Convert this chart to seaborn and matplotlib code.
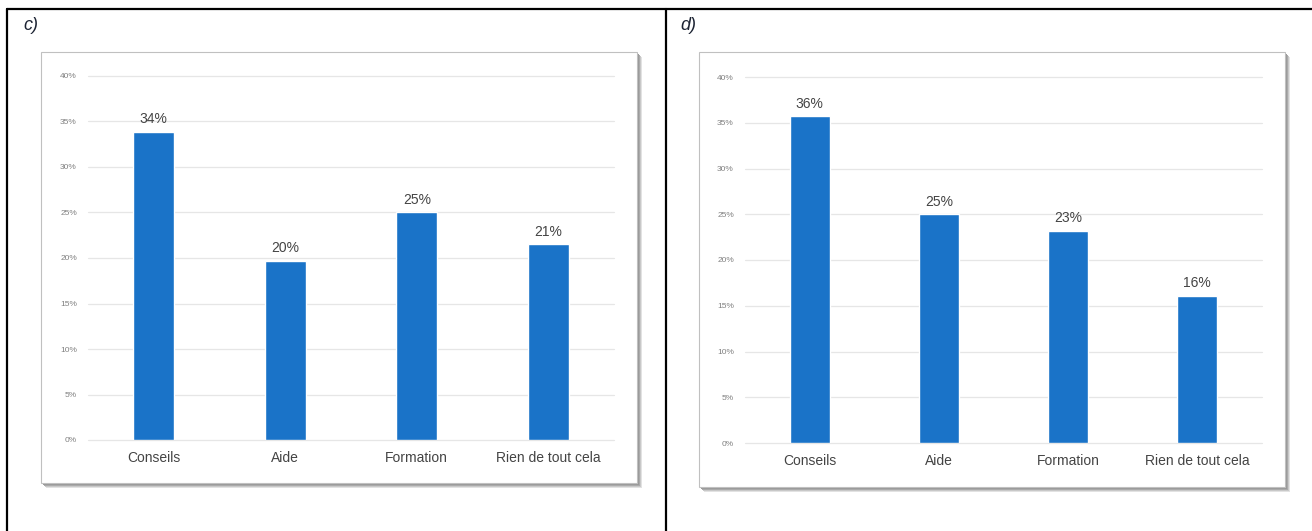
import matplotlib
matplotlib.use("Agg")
import matplotlib.pyplot as plt
import matplotlib.patches as patches
import seaborn as sns
import pandas as pd

categories = ["Conseils", "Aide", "Formation", "Rien de tout cela"]
vals_c = [33.9, 19.7, 25.0, 21.5]
lab_c = ["34%", "20%", "25%", "21%"]
vals_d = [35.7, 25.0, 23.2, 16.1]
lab_d = ["36%", "25%", "23%", "16%"]
yticks = [0, 5, 10, 15, 20, 25, 30, 35, 40]
ytick_labels = ["0%", "5%", "10%", "15%", "20%", "25%", "30%", "35%", "40%"]

sns.set_theme(style="white")
plt.rcParams["font.family"] = ["Liberation Sans", "DejaVu Sans"]

W, H = 1312, 531
fig = plt.figure(figsize=(W / 100, H / 100), dpi=100)
fig.patch.set_facecolor("white")

def px_rect(x0, y0, x1, y1):
    # pixel box (top-left origin) -> figure fraction [l, b, w, h]
    return [x0 / W, 1 - y1 / H, (x1 - x0) / W, (y1 - y0) / H]

def frame(x0, y0, x1, y1):
    # soft shadow then white card with thin gray border
    for off, c in [(5, "#e2e2e2"), (4, "#c8c8c8"), (3, "#aaaaaa"), (2, "#999999")]:
        fig.patches.append(patches.Rectangle(
            ((x0 + off) / W, 1 - (y1 + off) / H), (x1 - x0) / W, (y1 - y0) / H,
            transform=fig.transFigure, facecolor=c, edgecolor="none", zorder=-3))
    fig.patches.append(patches.Rectangle(
        (x0 / W, 1 - y1 / H), (x1 - x0) / W, (y1 - y0) / H,
        transform=fig.transFigure, facecolor="white", edgecolor="#c0c0c0",
        linewidth=0.8, zorder=-2))

def panel(box, vals, labs):
    ax = fig.add_axes(px_rect(*box))
    ax.set_facecolor("none")
    df = pd.DataFrame({"cat": categories, "val": vals})
    sns.barplot(data=df, x="cat", y="val", color="#1a73c8", saturation=1,
                width=0.31, ax=ax, zorder=3)
    ax.bar_label(ax.containers[0], labels=labs, padding=4, fontsize=10,
                 color="#444444")
    ax.set_xlim(-0.5, 3.5)
    ax.set_ylim(0, 40)
    ax.set_yticks(yticks)
    ax.set_yticklabels(ytick_labels)
    ax.grid(axis="y", color="#e6e6e6", linewidth=0.9, zorder=0)
    for gl in ax.get_ygridlines():
        gl.set_clip_on(False)
    ax.set_axisbelow(True)
    for s in ax.spines.values():
        s.set_visible(False)
    ax.tick_params(axis="y", length=0, pad=8, labelsize=6, labelcolor="#808080")
    ax.tick_params(axis="x", length=0, pad=8, labelsize=10, labelcolor="#444444")
    ax.set_xlabel("")
    ax.set_ylabel("")
    return ax

frame(41, 52, 637, 483)
frame(699, 52, 1285, 487)

panel((88, 76, 614, 440), vals_c, lab_c)
panel((745, 77, 1262, 443), vals_d, lab_d)

fig.text(23 / W, 1 - 25 / H, "c)", fontsize=13, style="italic",
         color="#1c2333", va="center", ha="left")
fig.text(680 / W, 1 - 25 / H, "d)", fontsize=13, style="italic",
         color="#1c2333", va="center", ha="left")

# table borders
lw = 1.6
fig.add_artist(plt.Line2D([7 / W, 1], [1 - 9 / H, 1 - 9 / H], color="black", lw=lw,
                          transform=fig.transFigure))
fig.add_artist(plt.Line2D([7 / W, 7 / W], [0, 1 - 9 / H], color="black", lw=lw,
                          transform=fig.transFigure))
fig.add_artist(plt.Line2D([665.5 / W, 665.5 / W], [0, 1 - 9 / H], color="black", lw=lw,
                          transform=fig.transFigure))

fig.savefig("out.png", dpi=100)
